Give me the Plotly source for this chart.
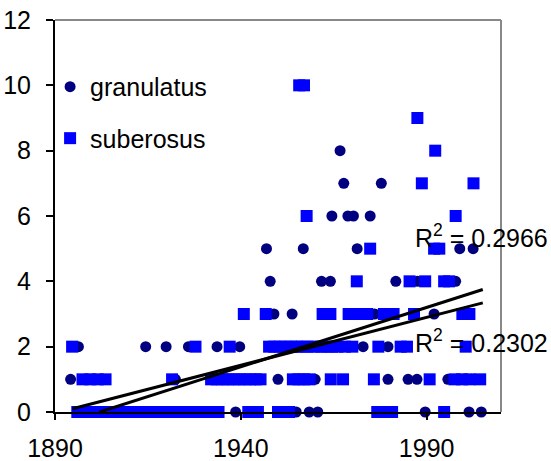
import plotly.graph_objects as go

# ---- data ----
gran_year = [
    1938.6, 1954.9, 1958.4, 1960.7, 1989.6, 2001.4, 2004.7,
    1894.2, 1899.4, 1922.4, 1950.0, 1956.0, 1960.0, 1979.6, 1985.0, 1987.4, 1995.7, 2002.1,
    1896.3, 1914.4, 1919.9, 1925.9, 1933.6, 1939.7, 1972.9, 1979.6, 1983.6,
    1948.9, 1953.8, 1976.0, 1992.0,
    1947.9, 1961.7, 1964.1, 1981.7, 1987.5, 1997.8,
    1946.9, 1956.8, 1971.3, 1998.9, 2002.5,
    1964.5, 1968.8, 1970.3, 1974.8,
    1967.7, 1977.8,
    1966.7,
]
gran_count = (
    [0] * 7 + [1] * 11 + [2] * 9 + [3] * 4 + [4] * 6 + [5] * 5 + [6] * 4 + [7] * 2 + [8] * 1
)

sub_year = (
    list(range(1896, 1935)) + [1942, 1943.5, 1944.6, 1950, 1951.5, 1953,
                               1976.7, 1978, 1979.5, 1980.7, 1994.7]
    + [1897.4, 1899.5, 1901.5, 1903.6, 1921.5, 1932, 1933.5, 1935, 1936.5, 1938,
       1939.5, 1941, 1942.5, 1944, 1945.3, 1954, 1955.5, 1957, 1958.5, 1964.2,
       1967.5, 1975.8, 1990.8, 1997.5, 1999.5, 2001.5, 2004.4]
    + [1894.6, 1927.8, 1937, 1947.6, 1949, 1950.5, 1952, 1953.5, 1955, 1956.5,
       1958, 1959.7, 1961.5, 1963, 1964.5, 1966, 1968, 1970, 1977, 1983,
       1984.7, 2000.5]
    + [1940.8, 1946.7, 1962, 1964.1, 1969, 1970.7, 1972.4, 1974, 1978.5, 1980,
       1981.1, 1986.6, 1999.6, 2001.5]
    + [1971.2, 1985.4, 1989.6, 1994.7, 1996]
    + [1974.8, 1992, 1993.4]
    + [1957.7, 1997.8]
    + [1988.7, 2002.6]
    + [1992.3]
    + [1987.5]
    + [1955.7, 1957]
)
sub_count = (
    [0] * 50 + [1] * 27 + [2] * 22 + [3] * 14 + [4] * 5 + [5] * 3 + [6] * 2
    + [7] * 2 + [8] * 1 + [9] * 1 + [10] * 2
)

trend_a_x = [1894.7, 2005.1]
trend_a_y = [0.1, 3.34]
trend_b_x = [1902.0, 2005.1]
trend_b_y = [0.0, 3.75]

r2_labels = ["R<sup>2</sup> = 0.2966", "R<sup>2</sup> = 0.2302"]

x_ticks = [1890, 1940, 1990]
y_ticks = [0, 2, 4, 6, 8, 10, 12]

FONT = "Liberation Sans, Arial, sans-serif"

fig = go.Figure()
fig.add_trace(go.Scatter(
    x=gran_year, y=gran_count, mode="markers", name="granulatus",
    legendgroup="g",
    marker=dict(symbol="circle", size=11, color="#000080"),
    cliponaxis=False,
))
fig.add_trace(go.Scatter(
    x=sub_year, y=sub_count, mode="markers", name="suberosus",
    legendgroup="s",
    marker=dict(symbol="square", size=12, color="#0000FF"),
    cliponaxis=False,
))
for tx, ty in [(trend_a_x, trend_a_y), (trend_b_x, trend_b_y)]:
    fig.add_trace(go.Scatter(
        x=tx, y=ty, mode="lines", showlegend=False,
        line=dict(color="black", width=3), hoverinfo="skip",
    ))

fig.add_annotation(text=r2_labels[0], xref="paper", yref="paper",
                   x=0.8027, y=0.45, xanchor="left", yanchor="middle",
                   showarrow=False, font=dict(size=25, color="black", family=FONT))
fig.add_annotation(text=r2_labels[1], xref="paper", yref="paper",
                   x=0.8027, y=0.18, xanchor="left", yanchor="middle",
                   showarrow=False, font=dict(size=25, color="black", family=FONT))

# gray top/right plot-area border
fig.add_shape(type="line", xref="paper", yref="paper", x0=0, x1=1, y0=1, y1=1,
              line=dict(color="#888888", width=2))
fig.add_shape(type="line", xref="paper", yref="paper", x0=1, x1=1, y0=0, y1=1,
              line=dict(color="#888888", width=2))

fig.update_layout(
    width=551, height=461,
    margin=dict(l=55, r=50, t=20, b=49, autoexpand=False),
    paper_bgcolor="white", plot_bgcolor="white",
    font=dict(family=FONT, size=25, color="black"),
    showlegend=True,
    legend=dict(x=-0.011, y=0.888, xanchor="left", yanchor="top",
                bgcolor="rgba(0,0,0,0)", font=dict(size=25, family=FONT),
                tracegroupgap=16),
    xaxis=dict(range=[1890, 2010], tickvals=x_ticks, showgrid=False,
               zeroline=False, showline=True, linecolor="black", linewidth=2,
               ticks="outside", ticklen=6, tickwidth=1.5, tickcolor="black",
               ticklabelstandoff=7, tickfont=dict(size=25), automargin=False),
    yaxis=dict(range=[0, 12], tickvals=y_ticks, showgrid=False,
               zeroline=False, showline=True, linecolor="black", linewidth=2,
               ticks="outside", ticklen=7, tickwidth=1.5, tickcolor="black",
               ticklabelstandoff=10, tickfont=dict(size=25), automargin=False),
)

fig.write_html(
    "out.html",
    config={"displayModeBar": False},
    post_script="document.body.style.margin='0';document.body.style.overflow='hidden';",
)
